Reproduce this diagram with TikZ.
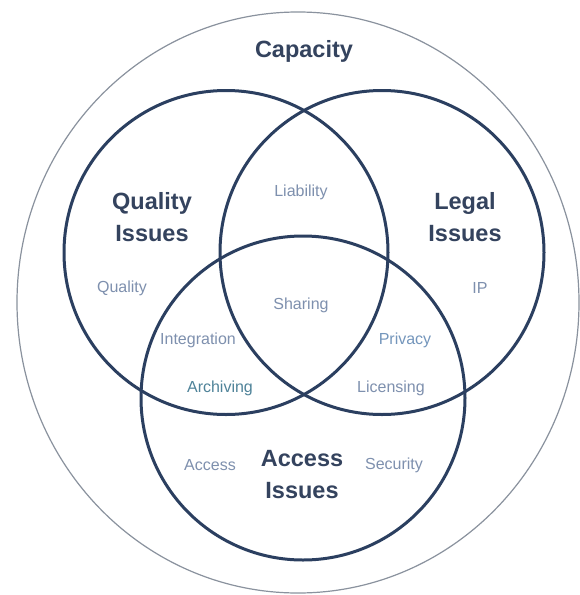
\documentclass[tikz,border=0pt]{standalone}
\usepackage{fontspec}
\setmainfont{Liberation Sans}
\usetikzlibrary{shapes.geometric}
\definecolor{ringc}{HTML}{2B3F60}
\definecolor{outerc}{HTML}{8A929E}
\definecolor{titlec}{HTML}{34435E}
\definecolor{labc}{HTML}{7E90AE}
\definecolor{tealc}{HTML}{4F8399}
\definecolor{bluec}{HTML}{7496BC}
\tikzset{
  ring/.style={circle, draw=ringc, line width=3pt, minimum size=324pt, inner sep=0pt, outer sep=0pt},
  outerring/.style={ellipse, draw=outerc, line width=1.2pt, minimum width=562pt, minimum height=581pt, inner sep=0pt, outer sep=0pt},
  title/.style={font=\fontsize{23.5}{32}\selectfont\bfseries, text=titlec, align=center, inner sep=0pt},
  lab/.style={font=\fontsize{16}{19}\selectfont, text=labc, inner sep=0pt}
}
\begin{document}
\begin{tikzpicture}[x=1pt,y=-1pt]
\useasboundingbox (0,0) rectangle (580,595);
\fill[white] (0,0) rectangle (580,595);
\node[outerring] (outer) at (298,302.5) {};
\node[ring] (Q) at (226,252.5) {};
\node[ring] (L) at (382,252.5) {};
\node[ring] (A) at (303,398) {};
\node[title] (cap) at (304,51) {Capacity};
\node[title] (qi) at (152,217) {Quality\\Issues};
\node[title] (li) at (465,217) {Legal\\Issues};
\node[title] (ai) at (302,475) {Access\\Issues};
\node[lab] (liab) at (301,192) {Liability};
\node[lab] (qual) at (122,288) {Quality};
\node[lab] (ip) at (480,288) {IP};
\node[lab] (shar) at (301,305) {Sharing};
\node[lab] (integ) at (198,340) {Integration};
\node[lab, text=bluec] (priv) at (405,340) {Privacy};
\node[lab, text=tealc] (arch) at (220,388) {Archiving};
\node[lab] (lic) at (391,388) {Licensing};
\node[lab] (acc) at (210,465) {Access};
\node[lab] (sec) at (394,465) {Security};
\end{tikzpicture}
\end{document}
